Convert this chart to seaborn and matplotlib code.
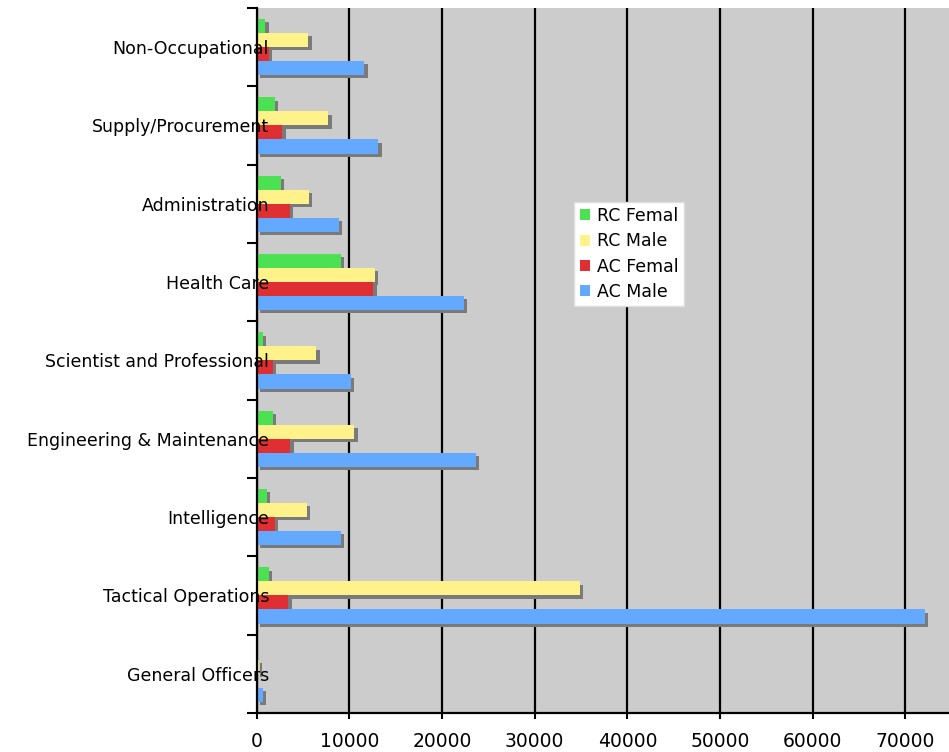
import matplotlib
matplotlib.use("Agg")
import matplotlib.pyplot as plt
import matplotlib.patheffects as pe
from matplotlib.patches import Patch
import numpy as np
import pandas as pd
import seaborn as sns

categories = [
    "Non-Occupational",
    "Supply/Procurement",
    "Administration",
    "Health Care",
    "Scientist and Professional",
    "Engineering & Maintenance",
    "Intelligence",
    "Tactical Operations",
    "General Officers",
]
series = ["RC Femal", "RC Male", "AC Femal", "AC Male"]

rc_female = [950, 1950, 2630, 9110, 650, 1750, 1080, 1300, 20]
rc_male = [5600, 7760, 5690, 12790, 6460, 10560, 5470, 34900, 250]
ac_female = [1300, 2800, 3600, 12600, 1750, 3660, 1980, 3450, 30]
ac_male = [11640, 13150, 8930, 22340, 10200, 23700, 9110, 72100, 700]

colors = ["#4ce053", "#fff28a", "#df2f33", "#63a9ff"]

df = pd.DataFrame({
    "category": categories * 4,
    "series": sum([[s] * len(categories) for s in series], []),
    "value": rc_female + rc_male + ac_female + ac_male,
})

sns.set_style("white")
plt.rcParams["font.family"] = ["DejaVu Sans"]
plt.rcParams["text.color"] = "black"
plt.rcParams["xtick.color"] = "black"
plt.rcParams["ytick.color"] = "black"

fig = plt.figure(figsize=(9.49, 7.52), dpi=100)
ax = fig.add_axes([0.2703, 0.0519, 0.7297, 0.9375])
ax.set_facecolor("#cccccc")

sns.barplot(data=df, y="category", x="value", hue="series", order=categories,
            hue_order=series, palette=colors, orient="h", width=0.716,
            saturation=1, linewidth=0, legend=False, ax=ax)

# drop shadow under each bar
for p in ax.patches:
    p.set_path_effects([pe.SimplePatchShadow(offset=(2.3, -2.3), shadow_rgbFace="#7a7a7a", alpha=1.0),
                        pe.Normal()])

ax.set_xlim(0, 74700)
ax.set_ylim(len(categories) - 0.5, -0.5)
ax.set_xticks(np.arange(0, 80000, 10000))
ax.set_xticklabels([str(v) for v in range(0, 80000, 10000)], fontsize=13.5)
ax.xaxis.grid(True, color="black", linewidth=1.6)
ax.yaxis.grid(False)
ax.set_axisbelow(True)
# category labels sit on top of the bars, as in the original
ax.yaxis.set_zorder(3)

ax.set_yticks(np.arange(len(categories)))
ax.set_yticklabels(categories, fontsize=12.5)
ax.set_yticks(np.arange(len(categories) + 1) - 0.5, minor=True)
ax.tick_params(axis="y", which="major", length=0, pad=-9)
ax.tick_params(axis="y", which="minor", length=7, width=1.5, color="black", left=True)
ax.tick_params(axis="x", which="major", length=4, width=1.5, color="black", bottom=True, pad=10)

for s in ["top", "right"]:
    ax.spines[s].set_visible(False)
for s in ["left", "bottom"]:
    ax.spines[s].set_color("black")
    ax.spines[s].set_linewidth(1.6)
    ax.spines[s].set_zorder(3.5)

ax.set_xlabel("")
ax.set_ylabel("")

handles = [Patch(facecolor=c, edgecolor="none", label=s) for c, s in zip(colors, series)]
leg = ax.legend(handles=handles, loc="upper left", bbox_to_anchor=(0.459, 0.725),
                frameon=True, fancybox=False, framealpha=1, edgecolor="#dddddd",
                fontsize=12.5, handlelength=0.6, handleheight=0.6, handletextpad=0.4,
                labelspacing=0.42, borderpad=0.3, borderaxespad=0)
leg.get_frame().set_linewidth(1.0)
leg.set_zorder(5)

fig.savefig("out.png", dpi=100)
